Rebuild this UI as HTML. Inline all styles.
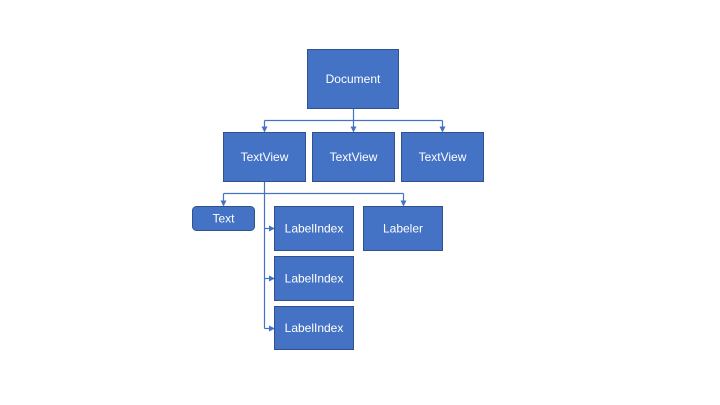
<!DOCTYPE html>
<html><head><meta charset="utf-8"><style>
html,body{margin:0;padding:0;background:#fff;}
svg{display:block;}
text{font-family:"Liberation Sans",sans-serif;font-size:12px;fill:#fff;text-anchor:middle;dominant-baseline:central;}
</style></head><body>
<svg width="720" height="405" viewBox="0 0 720 405" xmlns="http://www.w3.org/2000/svg">
<defs><marker id="a" markerWidth="6" markerHeight="6" refX="5" refY="3" orient="auto" markerUnits="userSpaceOnUse"><path d="M0,0 L6,3 L0,6 z" fill="#4472C4"/></marker></defs>
<g stroke="#4472C4" stroke-width="1.2" fill="none">
<path d="M353.5 108 V120.5"/>
<path d="M264.5 120.5 H442.5"/>
<path d="M264.5 120.5 V131.5" marker-end="url(#a)"/>
<path d="M353.5 120.5 V131.5" marker-end="url(#a)"/>
<path d="M442.5 120.5 V131.5" marker-end="url(#a)"/>
<path d="M264.5 181 V328.5"/>
<path d="M223.5 193.5 H403.5"/>
<path d="M223.5 193.5 V205.5" marker-end="url(#a)"/>
<path d="M403.5 193.5 V205.5" marker-end="url(#a)"/>
<path d="M264.5 228.5 H274" marker-end="url(#a)"/>
<path d="M264.5 278.5 H274" marker-end="url(#a)"/>
<path d="M264.5 328.5 H274" marker-end="url(#a)"/>
</g>
<g fill="#4472C4" stroke="#2F528F" stroke-width="1">
<rect x="307.5" y="49.5" width="91" height="59"/>
<rect x="223.5" y="132.5" width="82" height="49"/>
<rect x="312.5" y="132.5" width="82" height="49"/>
<rect x="401.5" y="132.5" width="82" height="49"/>
<rect x="192.5" y="206.5" width="62" height="24" rx="4"/>
<rect x="274.5" y="206.5" width="79" height="44"/>
<rect x="274.5" y="256.5" width="79" height="44"/>
<rect x="274.5" y="306.5" width="79" height="43"/>
<rect x="363.5" y="206.5" width="79" height="44"/>
</g>
<text x="353" y="79">Document</text>
<text x="264.5" y="157">TextView</text>
<text x="353.5" y="157">TextView</text>
<text x="442.5" y="157">TextView</text>
<text x="223.5" y="218.5">Text</text>
<text x="314" y="228.5">LabelIndex</text>
<text x="314" y="278.5">LabelIndex</text>
<text x="314" y="328">LabelIndex</text>
<text x="403" y="228.5">Labeler</text>
</svg>
</body></html>
